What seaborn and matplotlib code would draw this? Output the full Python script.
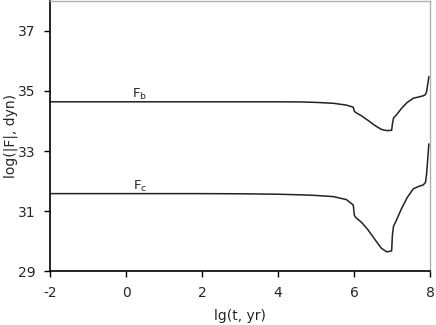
import numpy as np
import pandas as pd
import seaborn as sns
import matplotlib
matplotlib.use("Agg")
import matplotlib.pyplot as plt

# === data ===
lg_t = [-2.0, 0.0, 2.0, 3.0, 4.0, 4.6, 5.0, 5.46, 5.8, 5.98,
        6.01, 6.05, 6.2, 6.37, 6.55, 6.72, 6.86, 6.99, 7.01, 7.04,
        7.1, 7.25, 7.4, 7.56, 7.7, 7.82, 7.88, 7.91, 7.97]

log_Fb = [34.64, 34.64, 34.64, 34.64, 34.64, 34.635, 34.62, 34.59, 34.53, 34.46,
          34.32, 34.28, 34.17, 34.02, 33.85, 33.72, 33.68, 33.69, 33.9, 34.1,
          34.18, 34.42, 34.62, 34.76, 34.8, 34.84, 34.88, 34.98, 35.48]

log_Fc = [31.58, 31.58, 31.58, 31.575, 31.56, 31.54, 31.52, 31.48, 31.38, 31.2,
          30.85, 30.78, 30.62, 30.37, 30.05, 29.76, 29.64, 29.67, 30.2, 30.5,
          30.65, 31.08, 31.45, 31.74, 31.82, 31.87, 31.95, 32.24, 33.24]

df = pd.DataFrame({"lg_t": lg_t, "Fb": log_Fb, "Fc": log_Fc})

sns.set_style("white")
plt.rcParams['font.family'] = ['DejaVu Sans']
plt.rcParams['axes.unicode_minus'] = False

fig = plt.figure(figsize=(4.36, 3.25), dpi=100)
ax = fig.add_axes([0.1147, 0.166, 0.8716, 0.831])

sns.lineplot(data=df, x="lg_t", y="Fb", ax=ax, color="#222222", lw=1.1,
             sort=False, estimator=None)
sns.lineplot(data=df, x="lg_t", y="Fc", ax=ax, color="#222222", lw=1.1,
             sort=False, estimator=None)

ax.text(0.16, 34.77, r"$\mathregular{F_b}$", fontsize=9.5, va="baseline")
ax.text(0.18, 31.70, r"$\mathregular{F_c}$", fontsize=9.5, va="baseline")

ax.set_xlim(-2, 8)
ax.set_ylim(29, 38)
ax.set_xticks([-2, 0, 2, 4, 6, 8])
ax.set_yticks([29, 31, 33, 35, 37])
ax.tick_params(axis="both", direction="out", length=4.5, width=1,
               labelsize=10, color="black", left=True, bottom=True)
ax.tick_params(axis="x", pad=6.5)
ax.tick_params(axis="y", pad=6)
ax.set_xlabel("lg(t, yr)", fontsize=10, labelpad=6)
ax.set_ylabel("log(|F|, dyn)", fontsize=10)
ax.yaxis.set_label_coords(-0.083, 0.5)

for s in ["left", "bottom"]:
    ax.spines[s].set_color("black")
    ax.spines[s].set_linewidth(1.2)
for s in ["top", "right"]:
    ax.spines[s].set_color("#b0b0b0")
    ax.spines[s].set_linewidth(1.0)

fig.savefig("out.png", dpi=100)
